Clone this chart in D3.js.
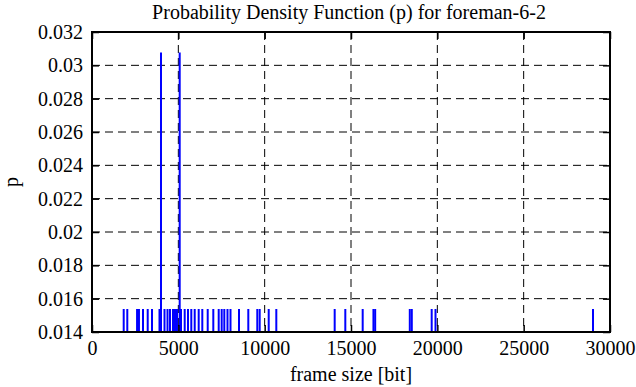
<!DOCTYPE html>
<html>
<head>
<meta charset="utf-8">
<script src="https://cdn.jsdelivr.net/npm/d3@7"></script>
<style>
  body { margin: 0; background: #fff; }
  text { font-family: "Liberation Serif", "DejaVu Serif", serif; fill: #000; }
</style>
</head>
<body>
<svg id="chart" width="636" height="387"></svg>
<script>
// frame sizes (bit) and their probabilities
var frameSizes = [1836, 2044, 2610, 2720, 2954, 3226, 3475, 3909, 3996, 4199, 4373,
  4517, 4691, 4807, 4923, 5079, 5154, 5369, 5560, 5751, 5948, 6179, 6388, 6701,
  7025, 7338, 7511, 7662, 7847, 8021, 8513, 9052, 9573, 9712, 10234, 10674,
  14055, 14670, 15677, 16300, 16400, 18405, 18521, 19673, 19894, 29015];
var probs = [0.01538, 0.01538, 0.01538, 0.01538, 0.01538, 0.01538, 0.01538, 0.01538, 0.03077, 0.01538, 0.01538,
  0.01538, 0.01538, 0.01538, 0.01538, 0.03077, 0.01538, 0.01538, 0.01538, 0.01538, 0.01538, 0.01538, 0.01538, 0.01538,
  0.01538, 0.01538, 0.01538, 0.01538, 0.01538, 0.01538, 0.01538, 0.01538, 0.01538, 0.01538, 0.01538, 0.01538,
  0.01538, 0.01538, 0.01538, 0.01538, 0.01538, 0.01538, 0.01538, 0.01538, 0.01538, 0.01538];

var xTicks = [0, 5000, 10000, 15000, 20000, 25000, 30000];
var yTicks = [0.014, 0.016, 0.018, 0.02, 0.022, 0.024, 0.026, 0.028, 0.03, 0.032];

var title = 'Probability Density Function (p) for foreman-6-2';
var xLabel = 'frame size [bit]';
var yLabel = 'p';

var margin = {top: 32, right: 26, bottom: 55, left: 92},
    width = 636 - margin.left - margin.right,
    height = 387 - margin.top - margin.bottom;

var svg = d3.select('#chart');
var g = svg.append('g')
  .attr('transform', 'translate(' + margin.left + ',' + margin.top + ')');

var x = d3.scaleLinear().domain([0, 30000]).range([0, width]);
var y = d3.scaleLinear().domain([0.014, 0.032]).range([height, 0]);

var fmtY = d => String(+d.toFixed(3));

// dashed grid
g.append('g')
  .attr('class', 'grid')
  .selectAll('line.gx')
  .data(xTicks.slice(1, -1))
  .join('line')
  .attr('x1', d => x(d)).attr('x2', d => x(d))
  .attr('y1', 0).attr('y2', height);

g.select('.grid')
  .selectAll('line.gy')
  .data(yTicks.slice(1, -1))
  .join('line')
  .attr('class', 'gy')
  .attr('x1', 0).attr('x2', width)
  .attr('y1', d => y(d)).attr('y2', d => y(d));

g.selectAll('.grid line')
  .attr('stroke', '#000')
  .attr('stroke-width', 1)
  .attr('stroke-dasharray', '8,5');

// impulses
g.append('g')
  .selectAll('line')
  .data(frameSizes)
  .join('line')
  .attr('x1', d => x(d)).attr('x2', d => x(d))
  .attr('y1', y(0.014))
  .attr('y2', (d, i) => y(probs[i]))
  .attr('stroke', '#0000ff')
  .attr('stroke-width', 2);

// axes with inward ticks
var tick = 7;

g.append('g')
  .attr('transform', 'translate(0,' + height + ')')
  .call(d3.axisBottom(x).tickValues(xTicks).tickFormat(d3.format('d'))
    .tickSizeInner(-tick).tickSizeOuter(0).tickPadding(9));

g.append('g')
  .call(d3.axisTop(x).tickValues(xTicks).tickFormat('')
    .tickSizeInner(-tick).tickSizeOuter(0));

g.append('g')
  .call(d3.axisLeft(y).tickValues(yTicks).tickFormat(fmtY)
    .tickSizeInner(-tick).tickSizeOuter(0).tickPadding(9));

g.append('g')
  .attr('transform', 'translate(' + width + ',0)')
  .call(d3.axisRight(y).tickValues(yTicks).tickFormat('')
    .tickSizeInner(-tick).tickSizeOuter(0));

g.selectAll('.domain').remove();
g.selectAll('.tick line').attr('stroke', '#000').attr('stroke-width', 1.5);
g.selectAll('.tick text')
  .style('font-family', '"Liberation Serif", "DejaVu Serif", serif')
  .style('font-size', '20px')
  .attr('fill', '#000');

// frame
g.append('rect')
  .attr('x', 0).attr('y', 0)
  .attr('width', width).attr('height', height)
  .attr('fill', 'none')
  .attr('stroke', '#000')
  .attr('stroke-width', 2);

// labels
svg.append('text')
  .attr('x', margin.left + width / 2 - 2)
  .attr('y', 18.5)
  .attr('text-anchor', 'middle')
  .style('font-size', '20px')
  .text(title);

svg.append('text')
  .attr('x', margin.left + width / 2)
  .attr('y', 381)
  .attr('text-anchor', 'middle')
  .style('font-size', '20px')
  .text(xLabel);

svg.append('text')
  .attr('transform', 'translate(18,' + (margin.top + height / 2) + ') rotate(-90)')
  .attr('text-anchor', 'middle')
  .style('font-size', '20px')
  .text(yLabel);
</script>
</body>
</html>
